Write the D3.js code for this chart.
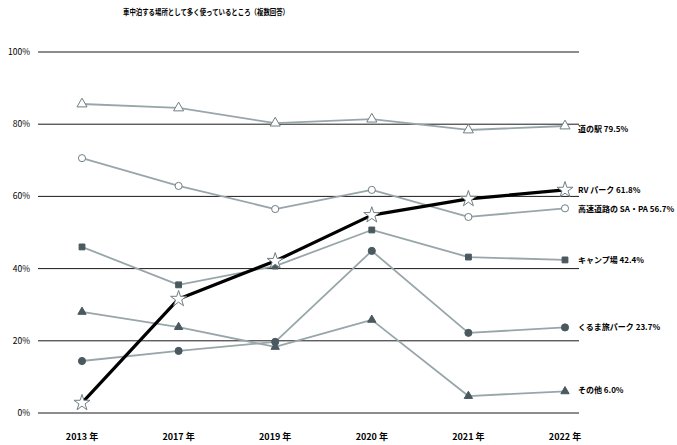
<!DOCTYPE html>
<html>
<head>
<meta charset="utf-8">
<script src="https://cdn.jsdelivr.net/npm/d3@7"></script>
<style>
  body { margin: 0; background: #fff; }
  text { font-family: "Noto Sans CJK JP", "Noto Sans", sans-serif; fill: #000; }
</style>
</head>
<body>
<div id="chart"></div>
<script>
const years = ['2013 年', '2017 年', '2019 年', '2020 年', '2021 年', '2022 年'];
const yTicks = [0, 20, 40, 60, 80, 100];

const michinoeki = [85.6, 84.5, 80.3, 81.4, 78.4, 79.5];
const sapa = [70.6, 62.9, 56.5, 61.8, 54.3, 56.7];
const rvpark = [2.8, 31.6, 42.1, 54.8, 59.3, 61.8];
const camp = [46.0, 35.5, 40.7, 50.7, 43.2, 42.4];
const kurumatabi = [14.4, 17.2, 19.7, 44.9, 22.2, 23.7];
const other = [28.0, 23.8, 18.3, 25.8, 4.7, 6.0];

const seriesNames = ['道の駅', '高速道路の SA・PA', 'RV パーク', 'キャンプ場', 'くるま旅パーク', 'その他'];

const W = 677, H = 445;
const svg = d3.select('#chart').append('svg')
  .attr('width', W).attr('height', H);

const x = d3.scalePoint().domain(years).range([82, 565]);
const y = d3.scaleLinear().domain([0, 100]).range([413, 52]);

const grey = '#98a6aa';
const dark = '#4a5860';

// title
svg.append('text')
  .attr('x', 206).attr('y', 15)
  .attr('text-anchor', 'middle')
  .attr('textLength', 166)
  .attr('lengthAdjust', 'spacingAndGlyphs')
  .style('font-size', '8px')
  .style('font-weight', 'bold')
  .text('車中泊する場所として多く使っているところ（複数回答）');

// gridlines + y labels
const grid = svg.append('g');
grid.selectAll('line')
  .data(yTicks)
  .join('line')
  .attr('x1', 38).attr('x2', 579)
  .attr('y1', d => y(d)).attr('y2', d => y(d))
  .attr('stroke', '#1a1a1a')
  .attr('stroke-width', 1);

grid.selectAll('text')
  .data(yTicks)
  .join('text')
  .attr('x', 30)
  .attr('y', d => y(d) + 3)
  .attr('text-anchor', 'end')
  .style('font-size', '8.5px')
  .text(d => d + '%');

// x labels
svg.append('g').selectAll('text')
  .data(years)
  .join('text')
  .attr('x', d => x(d))
  .attr('y', 440)
  .attr('text-anchor', 'middle')
  .style('font-size', '9px')
  .style('font-weight', 'bold')
  .text(d => d);

const series = [
  { name: seriesNames[0], values: michinoeki, symbol: d3.symbolTriangle, size: 44, fill: '#fff', stroke: '#6f7f85', dy: 3 },
  { name: seriesNames[1], values: sapa, symbol: d3.symbolCircle, size: 40, fill: '#fff', stroke: '#6f7f85', dy: 1 },
  { name: seriesNames[3], values: camp, symbol: d3.symbolSquare, size: 34, fill: dark, stroke: dark, dy: 0 },
  { name: seriesNames[4], values: kurumatabi, symbol: d3.symbolCircle, size: 40, fill: dark, stroke: dark, dy: 0 },
  { name: seriesNames[5], values: other, symbol: d3.symbolTriangle, size: 30, fill: dark, stroke: dark, dy: -1 },
  { name: seriesNames[2], values: rvpark, symbol: d3.symbolStar, size: 80, fill: '#fff', stroke: '#6f7f85', dy: 0, main: true }
];

const line = d3.line()
  .x((d, i) => x(years[i]))
  .y(d => y(d));

series.forEach(s => {
  const g = svg.append('g');
  g.append('path')
    .datum(s.values)
    .attr('d', line)
    .attr('fill', 'none')
    .attr('stroke', s.main ? '#000' : grey)
    .attr('stroke-width', s.main ? 3.2 : 1.8)
    .attr('stroke-linejoin', 'round');

  g.selectAll('path.mark')
    .data(s.values)
    .join('path')
    .attr('class', 'mark')
    .attr('transform', (d, i) => `translate(${x(years[i])},${y(d)})`)
    .attr('d', d3.symbol().type(s.symbol).size(s.size))
    .attr('fill', s.fill)
    .attr('stroke', s.stroke)
    .attr('stroke-width', 1);

  const last = s.values[s.values.length - 1];
  g.append('text')
    .attr('x', x(years[years.length - 1]) + 13)
    .attr('y', y(last) + 3 + s.dy)
    .style('font-size', '8px')
    .style('font-weight', 'bold')
    .text(s.name + ' ' + last.toFixed(1) + '%');
});
</script>
</body>
</html>
